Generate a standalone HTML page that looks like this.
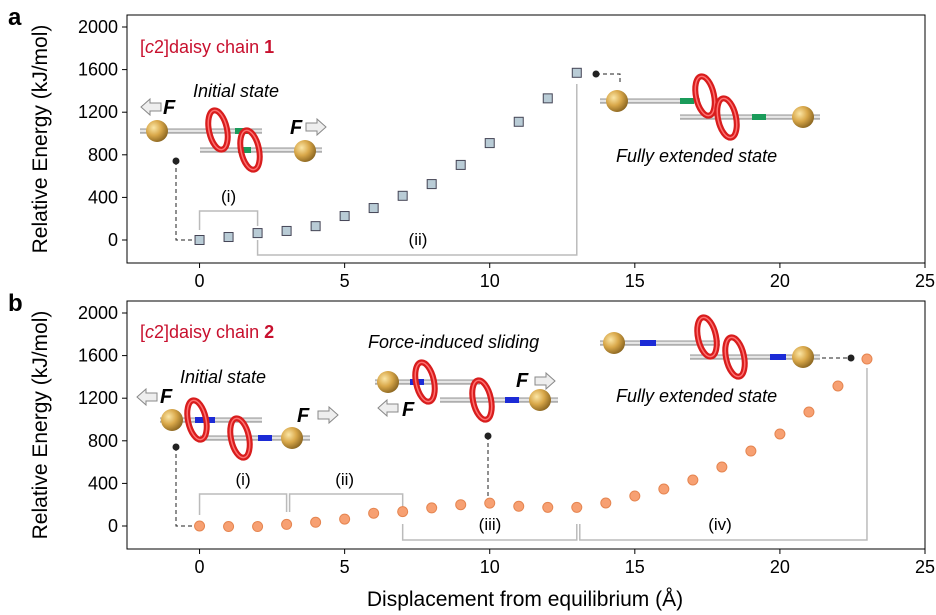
<!DOCTYPE html>
<html><head><meta charset="utf-8">
<style>
html,body{margin:0;padding:0;background:#fff;}
svg{display:block;font-family:"Liberation Sans",Arial,sans-serif;}
</style></head>
<body>
<svg id="chart" width="936" height="615" viewBox="0 0 936 615" xmlns="http://www.w3.org/2000/svg">
<defs>
<radialGradient id="gold" cx="0.35" cy="0.35" r="0.7">
<stop offset="0" stop-color="#fbe6a6"/><stop offset="0.5" stop-color="#d9a84a"/><stop offset="1" stop-color="#8a6520"/>
</radialGradient>
<linearGradient id="rod" x1="0" y1="0" x2="0" y2="1">
<stop offset="0" stop-color="#888"/><stop offset="0.5" stop-color="#fff"/><stop offset="1" stop-color="#777"/>
</linearGradient>
</defs>
</svg>
<script>
const xTicks = [0, 5, 10, 15, 20, 25];
const yTicks = [0, 400, 800, 1200, 1600, 2000];
const xA = [0,1,2,3,4,5,6,7,8,9,10,11,12,13];
const yA = [0,28,65,85,130,225,300,415,525,705,910,1110,1330,1570];
const xB = [0,1,2,3,4,5,6,7,8,9,10,11,12,13,14,15,16,17,18,19,20,21,22,23];
const yB = [0,-5,-5,15,35,65,120,135,170,200,215,185,175,175,216,282,347,432,554,704,864,1070,1315,1568];

const svg = document.getElementById('chart');
const NS = 'http://www.w3.org/2000/svg';
function mk(tag, attrs, parent){ const e=document.createElementNS(NS,tag); for(const k in attrs) e.setAttribute(k,attrs[k]); (parent||svg).appendChild(e); return e; }
function txt(x,y,s,attrs,parent){ const t=mk('text',Object.assign({x:x,y:y},attrs),parent); t.textContent=s; return t; }

const X0=127, X1=925;
const sx = v => X0 + (v + 2.5) * (X1 - X0) / 27.5;

function panel(id, top0, label, dataX, dataY, kind){
  const yZero = top0 + 213, yTop = top0, bottom = top0 + 236;
  const sy = v => yZero - v * (yZero - yTop) / 2000;
  const g = mk('g', {}); 
  
  
  mk('rect',{x:X0,y:yTop-12,width:X1-X0,height:bottom-yTop+12,fill:'none',stroke:'#000','stroke-width':1},g);
  xTicks.forEach(t=>{
    mk('line',{x1:sx(t),x2:sx(t),y1:bottom,y2:bottom+5,stroke:'#000'},g);
    const l=txt(sx(t),bottom+24,String(t),{'font-size':18,'text-anchor':'middle'},g);
    
    
  });
  yTicks.forEach(t=>{
    mk('line',{x1:X0-5,x2:X0,y1:sy(t),y2:sy(t),stroke:'#000'},g);
    const l=txt(X0-9,sy(t)+6,String(t),{'font-size':18,'text-anchor':'end'},g);
    
    
  });
  const yt = txt(0,0,'Relative Energy (kJ/mol)',{'font-size':21,'text-anchor':'middle',transform:`translate(47 ${(yTop+bottom)/2 - 6}) rotate(-90)`},g);
  
  
  const pl = txt(8, top0 - 2, label, {'font-size':24,'font-weight':'bold'}, g);
  
  
  return {g, sy, yZero, bottom};
}

function sphere(g,x,y){ mk('circle',{cx:x,cy:y,r:11,fill:'url(#gold)'},g); }
function rod(g,x1,x2,y){ mk('rect',{x:x1,y:y-2.5,width:x2-x1,height:5,fill:'url(#rod)'},g); }
function bar(g,x,y,w,c){ mk('rect',{x:x,y:y-3,width:w,height:6,fill:c},g); }
function ring(g,x,y){ mk('ellipse',{cx:x,cy:y,rx:9,ry:20,fill:'none',stroke:'#d81d1d','stroke-width':6,transform:`rotate(-12 ${x} ${y})`},g); mk('ellipse',{cx:x,cy:y,rx:9,ry:20,fill:'none',stroke:'#ff7070','stroke-width':1.5,transform:`rotate(-12 ${x} ${y})`},g); }
function arrowL(g,x,y){ mk('polygon',{points:`${x},${y} ${x+9},${y-8} ${x+9},${y-4} ${x+20},${y-4} ${x+20},${y+4} ${x+9},${y+4} ${x+9},${y+8}`,fill:'#eee',stroke:'#888'},g); }
function arrowR(g,x,y){ mk('polygon',{points:`${x+20},${y} ${x+11},${y-8} ${x+11},${y-4} ${x},${y-4} ${x},${y+4} ${x+11},${y+4} ${x+11},${y+8}`,fill:'#eee',stroke:'#888'},g); }
function F(g,x,y){ txt(x,y,'F',{'font-size':20,'font-weight':'bold','font-style':'italic'},g); }
function dot(g,x,y){ mk('circle',{cx:x,cy:y,r:3.5,fill:'#222'},g); }
function gray(g,pts){ mk('polyline',{points:pts,fill:'none',stroke:'#bbb','stroke-width':1.5},g); }

/* ---------- panel a ---------- */
const A = panel('a', 27, 'a', xA, yA, 'square');
{
  const g=A.g, sy=A.sy;
  const t=txt(140,53,'',{'font-size':18,fill:'#c8102e'},g);
  t.innerHTML='[<tspan font-style="italic">c</tspan>2]daisy chain <tspan font-weight="bold">1</tspan>';
  
  
  txt(193,97,'Initial state',{'font-size':18,'font-style':'italic'},g);
  txt(616,162,'Fully extended state',{'font-size':18,'font-style':'italic'},g);
  // initial molecule
  rod(g,140,262,131); rod(g,200,322,150);
  bar(g,235,131,13,'#1a9b5a'); bar(g,238,150,13,'#1a9b5a');
  ring(g,218,130); ring(g,250,150);
  sphere(g,157,131); sphere(g,305,151);
  arrowL(g,141,107); F(g,163,114); F(g,290,134); arrowR(g,306,127);
  // extended molecule
  rod(g,600,700,101); rod(g,680,820,117);
  bar(g,680,101,14,'#1a9b5a'); bar(g,752,117,14,'#1a9b5a');
  ring(g,705,96); ring(g,727,118);
  sphere(g,617,101); sphere(g,803,117);
  // connectors
  dot(g,176,161); mk('polyline',{points:`176,161 176,240 193,240`,fill:'none',stroke:'#222','stroke-dasharray':'4,3'},g);
  dot(g,596,74); mk('polyline',{points:`596,74 620,74 620,84`,fill:'none',stroke:'#222','stroke-dasharray':'4,3'},g);
  gray(g,`${sx(0)},230 ${sx(0)},211 ${sx(2)},211 ${sx(2)},226`);
  txt(sx(1),202,'(i)',{'font-size':17,'text-anchor':'middle'},g);
  gray(g,`${sx(2)},240 ${sx(2)},255 ${sx(13)},255 ${sx(13)},84`);
  txt(418,245,'(ii)',{'font-size':17,'text-anchor':'middle'},g);
  xA.forEach((x,i)=>{
    const r=mk('rect',{x:sx(x)-4.5,y:sy(yA[i])-4.5,width:9,height:9,fill:'#b9ccd6',stroke:'#445'},g);
    
    
  });
}

/* ---------- panel b ---------- */
const B = panel('b', 313, 'b', xB, yB, 'circle');
{
  const g=B.g, sy=B.sy;
  const t=txt(140,338,'',{'font-size':18,fill:'#c8102e'},g);
  t.innerHTML='[<tspan font-style="italic">c</tspan>2]daisy chain <tspan font-weight="bold">2</tspan>';
  
  
  txt(180,383,'Initial state',{'font-size':18,'font-style':'italic'},g);
  txt(368,348,'Force-induced sliding',{'font-size':18,'font-style':'italic'},g);
  txt(616,402,'Fully extended state',{'font-size':18,'font-style':'italic'},g);
  // initial
  rod(g,160,262,420); rod(g,200,310,438);
  bar(g,195,420,20,'#1c2bd6'); bar(g,258,438,14,'#1c2bd6');
  ring(g,197,420); ring(g,240,438);
  sphere(g,172,420); sphere(g,292,438);
  arrowL(g,137,397); F(g,160,403); F(g,297,422); arrowR(g,318,415);
  // sliding
  rod(g,375,480,382); rod(g,440,558,400);
  bar(g,410,382,14,'#1c2bd6'); bar(g,505,400,14,'#1c2bd6');
  ring(g,425,382); ring(g,482,400);
  sphere(g,388,382); sphere(g,540,400);
  arrowL(g,378,408); F(g,402,416); F(g,516,387); arrowR(g,535,381);
  // extended
  rod(g,600,720,343); rod(g,690,820,357);
  bar(g,640,343,16,'#1c2bd6'); bar(g,770,357,16,'#1c2bd6');
  ring(g,707,337); ring(g,735,357);
  sphere(g,614,343); sphere(g,803,357);
  // connectors
  dot(g,176,447); mk('polyline',{points:`176,447 176,526 193,526`,fill:'none',stroke:'#222','stroke-dasharray':'4,3'},g);
  dot(g,488,436); mk('line',{x1:488,y1:436,x2:488,y2:508,stroke:'#222','stroke-dasharray':'4,3'},g);
  dot(g,851,358); mk('line',{x1:822,y1:358,x2:851,y2:358,stroke:'#222','stroke-dasharray':'4,3'},g);
  gray(g,`${sx(0)},515 ${sx(0)},494 ${sx(3)},494 ${sx(3)},512`);
  gray(g,`${sx(3)+3},512 ${sx(3)+3},494 ${sx(7)},494 ${sx(7)},508`);
  txt(sx(1.5),485,'(i)',{'font-size':17,'text-anchor':'middle'},g);
  txt(sx(5),485,'(ii)',{'font-size':17,'text-anchor':'middle'},g);
  gray(g,`${sx(7)},524 ${sx(7)},540 ${sx(13)},540 ${sx(13)},524`);
  gray(g,`${sx(13)+3},524 ${sx(13)+3},540 ${sx(23)},540 ${sx(23)},368`);
  txt(490,530,'(iii)',{'font-size':17,'text-anchor':'middle'},g);
  txt(720,530,'(iv)',{'font-size':17,'text-anchor':'middle'},g);
  xB.forEach((x,i)=>{
    const c=mk('circle',{cx:sx(x),cy:sy(yB[i]),r:5,fill:'#f7a072',stroke:'#e58550'},g);
    
    
  });
  const xt=txt(525,606,'Displacement from equilibrium (Å)',{'font-size':21,'text-anchor':'middle'},g);
  
  
}
</script>
</body></html>
